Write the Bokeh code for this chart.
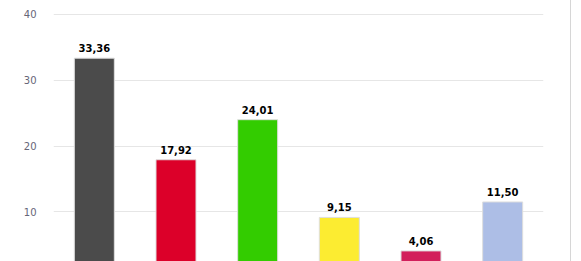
from bokeh.plotting import figure
from bokeh.models import ColumnDataSource, Range1d, FactorRange, SingleIntervalTicker
from bokeh.core.properties import value
from bokeh.embed import file_html
from bokeh.resources import INLINE

categories = ["A", "B", "C", "D", "E", "F"]
values = [33.36, 17.92, 24.01, 9.15, 4.06, 11.50]
colors = ["#4b4b4b", "#dc0029", "#33cc00", "#fcec31", "#d21f5b", "#adbee6"]
labels = [f"{v:.2f}".replace(".", ",") for v in values]

src = ColumnDataSource(dict(cat=categories, val=values, color=colors, label=labels))

p = figure(width=571, height=261, x_range=FactorRange(*categories, range_padding=0),
           y_range=Range1d(2.45, 40.15), output_backend="svg", toolbar_location=None,
           min_border_left=53, min_border_right=28, min_border_top=13, min_border_bottom=0)
p.styles = {"border-right": "1px solid #d6d6d6"}
p.outline_line_color = None
p.background_fill_color = "white"
p.border_fill_color = "white"

p.vbar(x="cat", top="val", bottom=0, width=0.49, color="color", line_color="#dedede",
       line_width=1, source=src)
p.text(x="cat", y="val", text="label", source=src, text_align="center",
       text_baseline="bottom", y_offset=-6, text_font=value("DejaVu Sans"),
       text_font_size="10px", text_font_style="bold", text_color="black")

p.xaxis.visible = False
p.xgrid.visible = False
p.ygrid.grid_line_color = "#e6e6e6"
p.yaxis.ticker = SingleIntervalTicker(interval=10)
p.yaxis.axis_line_color = None
p.yaxis.major_tick_line_color = None
p.yaxis.minor_tick_line_color = None
p.yaxis.major_tick_out = 0
p.yaxis.major_label_standoff = 13
p.yaxis.major_label_text_font = "DejaVu Sans"
p.yaxis.major_label_text_font_size = "10px"
p.yaxis.major_label_text_color = "#666677"

open("out.html", "w").write(file_html(p, INLINE))
